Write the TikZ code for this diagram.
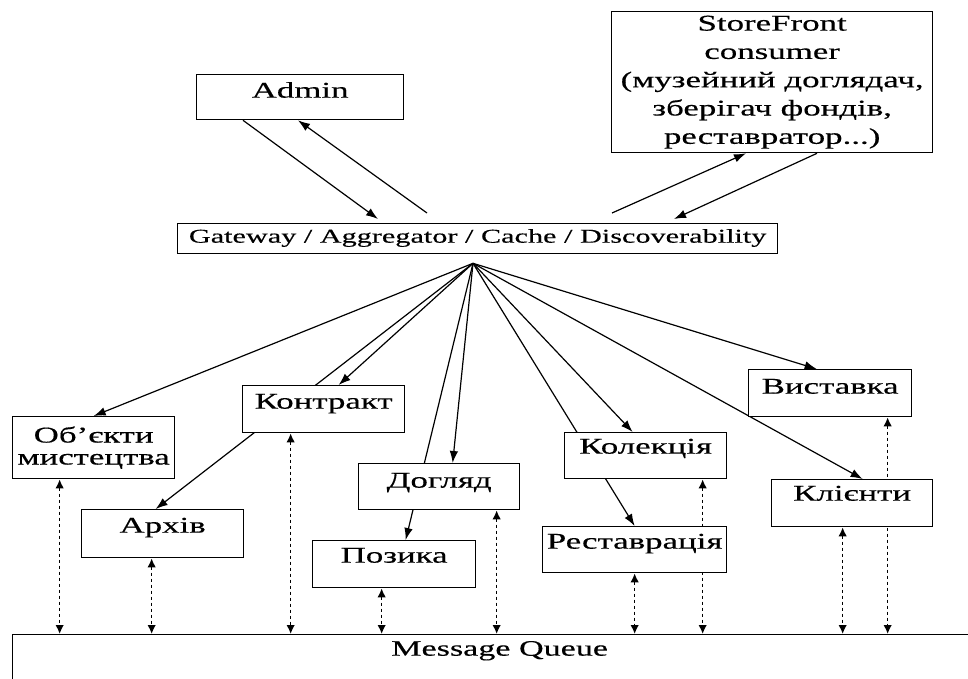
\documentclass[tikz,border=0pt]{standalone}
\usepackage{fontspec}
\setmainfont{Liberation Serif}[FakeStretch=1.55,FakeBold=0.4]
\usetikzlibrary{arrows.meta,calc}
\pgfdeclarelayer{bg}
\pgfsetlayers{bg,main}
\newcommand{\lbl}{\fontsize{22.5}{27}\selectfont}
\tikzset{
blk/.style={
  draw, fill=white, line width=1.3pt, inner sep=0pt,
  anchor=north west, align=center, font=\lbl,
  text height=23pt, text depth=24pt, minimum width=162pt
  },
flow/.style={-{Latex[length=12pt,width=8.5pt]}, line width=1.2pt},
bus/.style={{Latex[length=9pt,width=8.5pt]}-{Latex[length=9pt,width=8.5pt]},
  line width=1.6pt, dash pattern=on 3.5pt off 2.5pt}
}
\begin{document}
\begin{tikzpicture}[x=1pt,y=-1pt]
\useasboundingbox (0,0) rectangle (968,678);

% top
\node[blk, minimum width=207pt, text depth=22pt] (admin) at (196,74) {Admin};
\node[blk, minimum width=321pt, minimum height=141pt, text height=, text depth=,
  font={\fontsize{22.5}{28.3}\selectfont}] (store) at (611,11)
  {StoreFront\\consumer\\(музейний доглядач,\\зберігач фондів,\\реставратор...)};
\node[blk, minimum width=600pt, text height=19pt, text depth=11pt,
  font={\fontsize{19.5}{23}\selectfont}] (gw) at (177,223)
  {Gateway / Aggregator / Cache / Discoverability};

% services
\node[blk, minimum height=62pt, text height=, text depth=,
  font={\fontsize{22.5}{22}\selectfont}] (obj) at (12,416) {Об’єкти\\мистецтва};
\node[blk] (kontr) at (242,385) {Контракт};
\node[blk, text depth=25pt] (arch) at (81,509) {Архів};
\node[blk, minimum width=161pt, text height=24pt, text depth=22pt] (dogl) at (358,463) {Догляд};
\node[blk, minimum width=163pt, text height=22pt, text depth=25pt] (poz) at (312,540) {Позика};
\node[blk, text height=21pt, text depth=25pt] (kol) at (564,432) {Колекція};
\node[blk, minimum width=184pt, text height=22pt, text depth=24pt] (rest) at (542,526) {Реставрація};
\node[blk, minimum width=163pt, text height=24pt, text depth=23pt] (vyst) at (748,369) {Виставка};
\node[blk, minimum width=161pt, text height=21pt, text depth=26pt] (klient) at (771,479) {Клієнти};

% queue
\node[blk, minimum width=974pt, text height=21pt, text depth=60pt,
  font={\fontsize{22}{26}\selectfont}] (mq) at (12,634) {Message Queue};

\begin{pgfonlayer}{bg}
% gateway links
\draw[flow] ($(admin.south west)+(47,0)$) -- ($(gw.north west)+(201,-4)$);
\draw[flow] ($(gw.north west)+(250,-10)$) -- ($(admin.south west)+(102,0)$);
\draw[flow] ($(gw.north west)+(435,-10)$) -- ($(store.south west)+(135,0)$);
\draw[flow] ($(store.south west)+(206,0)$) -- ($(gw.north west)+(497,-4)$);

% fan
\coordinate (hub) at ($(gw.south west)+(296,9)$);
\draw[flow] (hub) -- (obj.north);
\draw[flow] (hub) -- ($(kontr.north)+(15,0)$);
\draw[flow] (hub) -- ($(arch.north)+(-7,0)$);
\draw[flow] (hub) -- ($(dogl.north)+(13.5,0)$);
\draw[flow] (hub) -- ($(poz.north)+(11.5,0)$);
\draw[flow] (hub) -- ($(kol.north)+(-13,0)$);
\draw[flow] (hub) -- (rest.north);
\draw[flow] (hub) -- ($(vyst.north)+(-13.5,0)$);
\draw[flow] (hub) -- ($(klient.north)+(10.5,0)$);

% queue links
\foreach \n/\dx in {obj/-34,arch/-11,kontr/-33,poz/-12.5,dogl/57.5,
                    rest/0,kol/57,klient/-9.5,vyst/57.5}{
  \coordinate (t) at ($(\n.south)+(\dx,0)$);
  \draw[bus] (t) -- (t |- mq.north);
}
\end{pgfonlayer}
\end{tikzpicture}
\end{document}
